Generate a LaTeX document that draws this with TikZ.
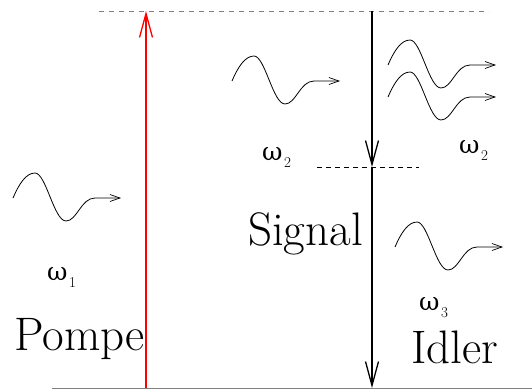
\documentclass[tikz,border=0pt]{standalone}
\usepackage{fontspec}
\newfontfamily\greekfont{DejaVu Serif}
\usetikzlibrary{arrows.meta}
\newcommand{\freq}[1]{{\greekfont\fontsize{25}{25}\selectfont ω}\kern1.5pt\raisebox{-7pt}{\fontsize{15}{15}\selectfont #1}}
\tikzset{
  wave/.pic={\draw[line width=0.8pt,-{Straight Barb[length=10pt,width=7pt,line width=0.7pt]}] (0,0) .. controls (6,-14) and (13,-25) .. (22,-25) .. controls (33,-25) and (41,23) .. (53,23) .. controls (64,23) and (68,0) .. (82,0) -- (108,0);},
  bigtext/.style={anchor=base west,inner sep=0pt,font=\fontsize{47}{47}\selectfont},
  freqtext/.style={anchor=base west,inner sep=0pt},
  level/.style={line width=1.3pt,-{Straight Barb[length=24pt,width=13pt]}}
}

\begin{document}
\begin{tikzpicture}[x=1pt,y=-1pt]
\useasboundingbox (0,0) rectangle (532,391);
\coordinate (g0) at (52,388);
\coordinate (g1) at (532,388);
\coordinate (d0) at (99,11);
\coordinate (d1) at (489,11);
\coordinate (m0) at (317,167);
\coordinate (m1) at (419,167);
\coordinate (pb) at (146,388);
\coordinate (pt) at (146,11);
\coordinate (st) at (372,11);
\coordinate (sm) at (372,167);
\coordinate (sb) at (372,388);
\draw[gray,line width=1pt] (g0) -- (g1);
\draw[gray,line width=0.9pt,dash pattern=on 5pt off 5pt] (d0) -- (d1);
\draw[line width=0.9pt,dash pattern=on 5pt off 4pt] (m0) -- (m1);
\draw[level,red] (pb) -- (pt);
\draw[level] (st) -- (sm);
\draw[level] (sm) -- (sb);
\pic at (13,198) {wave};
\pic at (232,81) {wave};
\pic at (388,65) {wave};
\pic at (388,97) {wave};
\pic at (395,247) {wave};
\node[freqtext] (w1) at (47,280) {\freq{1}};
\node[freqtext] (w2a) at (262,160) {\freq{2}};
\node[freqtext] (w2b) at (459,153) {\freq{2}};
\node[freqtext] (w3) at (419,310) {\freq{3}};
\node[bigtext] (pompe) at (14,350) {Pompe};
\node[bigtext] (signal) at (248,245) {Signal};
\node[bigtext] (idler) at (411,363) {Idler};
\end{tikzpicture}
\end{document}
